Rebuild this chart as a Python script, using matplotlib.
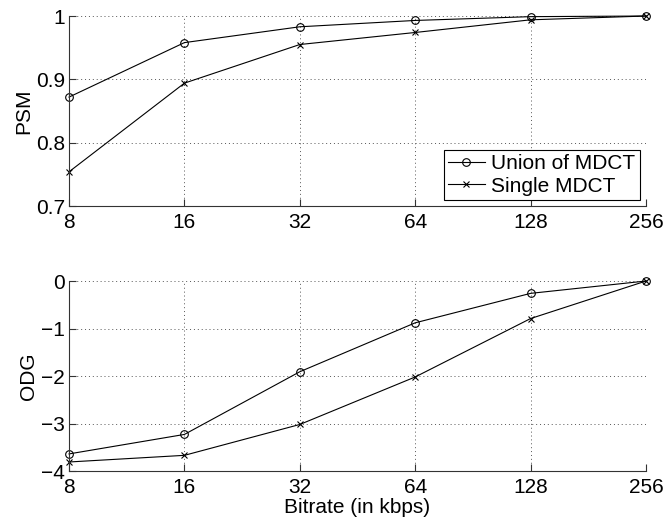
import matplotlib.pyplot as plt

plt.rcParams['font.family'] = ['Liberation Sans', 'DejaVu Sans']

bitrates = [8, 16, 32, 64, 128, 256]

psm_union = [0.872, 0.958, 0.983, 0.993, 0.999, 1.0]
psm_single = [0.754, 0.894, 0.955, 0.974, 0.994, 1.0]

odg_union = [-3.64, -3.23, -1.91, -0.88, -0.26, 0.0]
odg_single = [-3.81, -3.67, -3.02, -2.02, -0.79, 0.0]

fig = plt.figure(figsize=(6.66, 5.20), dpi=100)
ax1 = fig.add_axes([0.1036, 0.6038, 0.8664, 0.3654])
ax2 = fig.add_axes([0.1036, 0.0942, 0.8664, 0.3654])

fs = 15


def style(ax):
    ax.set_xscale('log', base=2)
    ax.set_xlim(8, 256)
    ax.set_xticks(bitrates)
    ax.set_xticklabels([str(b) for b in bitrates])
    ax.minorticks_off()
    ax.spines['top'].set_visible(False)
    ax.spines['right'].set_visible(False)
    for s in ['left', 'bottom']:
        ax.spines[s].set_linewidth(0.8)
        ax.spines[s].set_color('#333333')
    ax.grid(True, linestyle=(0, (1, 3)), color='#555555', linewidth=0.7)
    ax.tick_params(direction='in', labelsize=fs, length=5, width=0.8,
                   color='#333333')
    ax.tick_params(axis='x', pad=5)
    ax.tick_params(axis='y', pad=3)


def draw(ax, union, single, labels=True):
    ax.plot(bitrates, union, color='k', linewidth=0.8, marker='o',
            markersize=5.5, markerfacecolor='none', markeredgewidth=0.8,
            clip_on=False, label='Union of MDCT' if labels else None)
    ax.plot(bitrates, single, color='k', linewidth=0.8, marker='x',
            markersize=4.5, markeredgewidth=0.8, clip_on=False,
            label='Single MDCT' if labels else None)


draw(ax1, psm_union, psm_single)
style(ax1)
ax1.set_ylim(0.7, 1.0)
ax1.set_yticks([0.7, 0.8, 0.9, 1.0])
ax1.set_yticklabels(['0.7', '0.8', '0.9', '1'])
ax1.set_ylabel('PSM', fontsize=fs, labelpad=2)
leg = ax1.legend(loc='lower right', fontsize=fs, fancybox=False, edgecolor='k',
                 framealpha=1, borderaxespad=0.3, handlelength=1.8,
                 handletextpad=0.3, borderpad=0.2, labelspacing=0.15)
leg.get_frame().set_linewidth(0.8)

draw(ax2, odg_union, odg_single, labels=False)
style(ax2)
ax2.set_ylim(-4, 0)
ax2.set_yticks([-4, -3, -2, -1, 0])
ax2.set_ylabel('ODG', fontsize=fs, labelpad=2)
ax2.set_xlabel('Bitrate (in kbps)', fontsize=fs, labelpad=1)

fig.savefig('out.png', dpi=100)
